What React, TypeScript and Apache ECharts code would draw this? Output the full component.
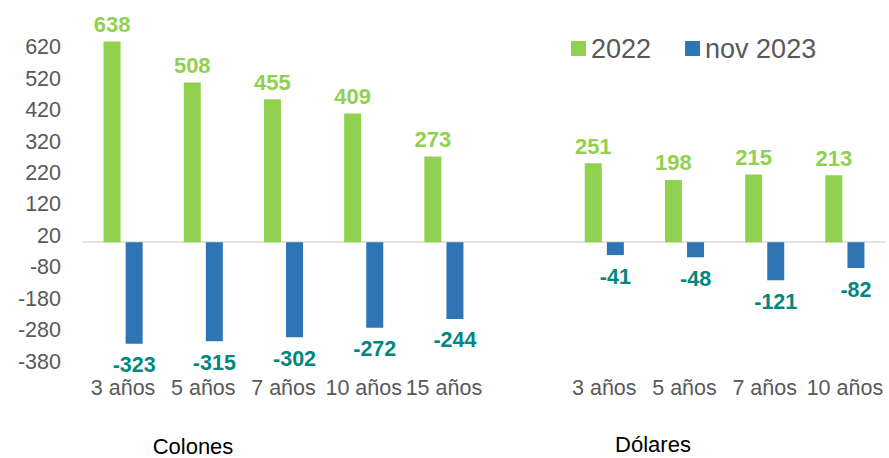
import React, { useEffect, useRef } from "react";
import * as echarts from "echarts";

const categories = ["3 años", "5 años", "7 años", "10 años", "15 años", "", "3 años", "5 años", "7 años", "10 años"];
const values2022 = [638, 508, 455, 409, 273, null, 251, 198, 215, 213];
const valuesNov2023 = [-323, -315, -302, -272, -244, null, -41, -48, -121, -82];
const seriesNames = ["2022", "nov 2023"];
const groupLabels = ["Colones", "Dólares"];

const FONT = "'Liberation Sans', Arial, sans-serif";

export default function App() {
  const ref = useRef<HTMLDivElement>(null);
  useEffect(() => {
    if (!ref.current) return;
    const chart = echarts.init(ref.current, null, { renderer: "svg" });
    chart.setOption({
      animation: false,
      textStyle: { fontFamily: FONT },
      legend: {
        left: 566,
        top: 30,
        itemWidth: 15,
        itemHeight: 15,
        itemGap: 34,
        icon: "rect",
        textStyle: { fontSize: 27, color: "#595959", fontFamily: FONT },
        data: seriesNames,
      },
      grid: { left: 83, right: 4, top: 34.7, bottom: 96.3 },
      xAxis: [
        {
          type: "category",
          data: categories,
          axisLine: { onZero: true, lineStyle: { color: "#D9D9D9", width: 1.5 } },
          axisTick: { show: false },
          axisLabel: { show: false },
        },
        {
          type: "category",
          data: categories,
          position: "bottom",
          axisLine: { show: false, onZero: false },
          axisTick: { show: false },
          axisLabel: { interval: 0, fontSize: 21.5, lineHeight: 17, color: "#595959", margin: 18, fontFamily: FONT },
        },
      ],
      yAxis: {
        type: "value",
        min: -380,
        max: 660,
        interval: 100,
        splitLine: { show: false },
        axisLine: { show: false },
        axisTick: { show: false },
        axisLabel: { showMaxLabel: false, fontSize: 21.5, color: "#595959", margin: 22, fontFamily: FONT },
      },
      series: [
        {
          name: seriesNames[0],
          type: "bar",
          data: values2022,
          barWidth: 17,
          barGap: "30%",
          itemStyle: { color: "#92D050" },
          label: {
            show: true,
            position: "top",
            distance: 6,
            fontSize: 22,
            fontWeight: "bold",
            color: "#92D050",
            fontFamily: FONT,
          },
        },
        {
          name: seriesNames[1],
          type: "bar",
          data: valuesNov2023,
          barWidth: 17,
          itemStyle: { color: "#2E75B6" },
          label: {
            show: true,
            position: "bottom",
            distance: 13,
            lineHeight: 17,
            fontSize: 21.5,
            fontWeight: "bold",
            color: "#00877F",
            fontFamily: FONT,
          },
        },
      ],
      graphic: [
        {
          type: "text",
          x: 193,
          y: 446,
          style: { text: groupLabels[0], fontSize: 22, fill: "#000", fontFamily: FONT, textAlign: "center", textVerticalAlign: "middle" },
        },
        {
          type: "text",
          x: 653,
          y: 444,
          style: { text: groupLabels[1], fontSize: 22, fill: "#000", fontFamily: FONT, textAlign: "center", textVerticalAlign: "middle" },
        },
      ],
    });
    return () => chart.dispose();
  }, []);
  return <div ref={ref} style={{ position: "absolute", left: 0, top: 0, width: 889, height: 458 }} />;
}
